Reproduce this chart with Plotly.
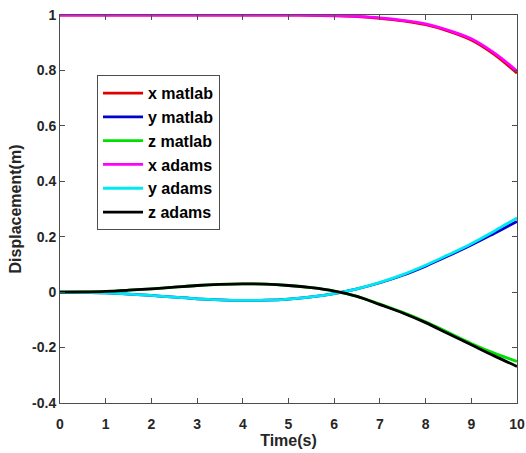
import plotly.graph_objects as go

t = [0, 0.5, 1, 1.5, 2, 2.5, 3, 3.5, 4, 4.5, 5, 5.5, 6, 6.5, 7, 7.5, 8, 8.5, 9, 9.5, 10]

x_matlab = [1, 1, 1, 1, 1, 1, 1, 1, 1, 1, 0.9995, 0.999, 0.997, 0.994, 0.988, 0.979, 0.965, 0.942, 0.91, 0.858, 0.79]
y_matlab = [0, -0.001, -0.003, -0.007, -0.012, -0.018, -0.024, -0.028, -0.030, -0.029, -0.025, -0.017, -0.005, 0.012, 0.034, 0.061, 0.094, 0.131, 0.17, 0.212, 0.255]
z_matlab = [0, 0.001, 0.003, 0.007, 0.012, 0.018, 0.024, 0.028, 0.030, 0.029, 0.024, 0.016, 0.004, -0.015, -0.043, -0.073, -0.107, -0.146, -0.185, -0.22, -0.25]

x_adams = [1, 1, 1, 1, 1, 1, 1, 1, 1, 1, 1, 0.999, 0.998, 0.995, 0.99, 0.981, 0.968, 0.945, 0.914, 0.863, 0.798]
y_adams = [0, -0.001, -0.003, -0.007, -0.012, -0.018, -0.024, -0.028, -0.030, -0.029, -0.025, -0.017, -0.005, 0.012, 0.035, 0.063, 0.097, 0.135, 0.175, 0.22, 0.268]
z_adams = [0, 0.001, 0.003, 0.007, 0.012, 0.018, 0.024, 0.028, 0.030, 0.029, 0.024, 0.016, 0.004, -0.015, -0.045, -0.075, -0.11, -0.15, -0.19, -0.23, -0.268]

series = [
    ("x matlab", x_matlab, "#e00000"),
    ("y matlab", y_matlab, "#0000d0"),
    ("z matlab", z_matlab, "#00e000"),
    ("x adams", x_adams, "#ff00ff"),
    ("y adams", y_adams, "#00e8f0"),
    ("z adams", z_adams, "#000000"),
]

fig = go.Figure()
for name, vals, color in series:
    fig.add_trace(go.Scatter(x=t, y=vals, mode="lines", name=name,
                             line=dict(color=color, width=2.8, shape="spline")))

axis_common = dict(
    showline=True, mirror="ticks", linecolor="#4d4d4d", linewidth=1,
    ticks="inside", ticklen=5, tickcolor="#4d4d4d", showgrid=False, zeroline=False,
    automargin=False,
    tickfont=dict(family="Liberation Sans", size=14, color="#262626", weight="bold"),
)

fig.update_layout(
    width=526, height=453,
    margin=dict(l=60, r=9, t=15, b=50),
    paper_bgcolor="white", plot_bgcolor="white",
    font=dict(family="Liberation Sans", color="#262626"),
    xaxis=dict(range=[0, 10], tickvals=list(range(11)), ticklabelstandoff=8,
               title=dict(text="<b>Time(s)</b>", font=dict(size=16), standoff=1),
               **axis_common),
    yaxis=dict(range=[-0.4, 1], tickvals=[-0.4, -0.2, 0, 0.2, 0.4, 0.6, 0.8, 1],
               ticktext=["-0.4", "-0.2", "0", "0.2", "0.4", "0.6", "0.8", "1"],
               title=dict(text="<b>Displacement(m)</b>", font=dict(size=16), standoff=6),
               **axis_common),
    legend=dict(x=0.081, y=0.845, xanchor="left", yanchor="top",
                bgcolor="white", bordercolor="#4d4d4d", borderwidth=1,
                font=dict(family="Liberation Sans", size=16, color="#000000", weight="bold"),
                itemwidth=40),
    showlegend=True,
)

fig.write_html("out.html", config={"displayModeBar": False},
               post_script="document.body.style.margin='0';document.body.style.overflow='hidden';")
